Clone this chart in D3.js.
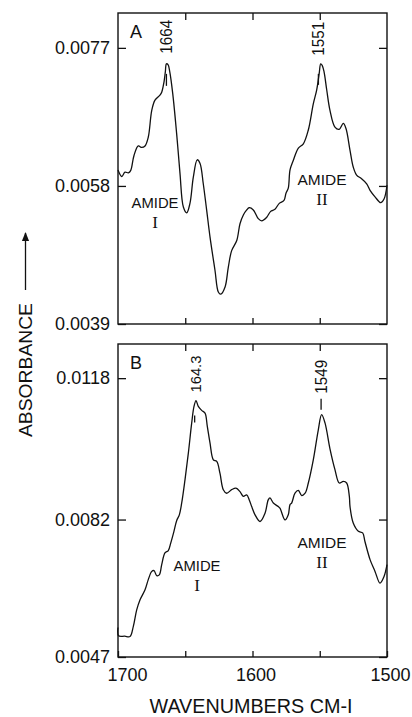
<!DOCTYPE html>
<html>
<head>
<meta charset="utf-8">
<script src="https://cdn.jsdelivr.net/npm/d3@7"></script>
<style>
  html, body { margin: 0; padding: 0; background: #fff; }
  svg text { font-family: "Liberation Sans", Arial, sans-serif; fill: #111; }
</style>
</head>
<body>
<svg id="chart" width="412" height="717"></svg>
<script>
// wavenumbers (cm-1) and absorbance
var wavenumbersA = [1700, 1697.2, 1694.8, 1692.3, 1690.6, 1688.1, 1684.9, 1682.4, 1679.9, 1677.5,
  1674.9, 1672.5, 1668.8, 1667.5, 1665.8, 1664.8, 1664, 1662.8, 1661.5, 1659.3, 1656.4, 1653.9,
  1651.4, 1648.9, 1646.5, 1644.0, 1641.1, 1639.0, 1636.6, 1634.1, 1631.6, 1627.9, 1625.4,
  1623.6, 1620.4, 1618.0, 1615.5, 1611.7, 1609.3, 1606.8, 1604.3, 1602.5, 1599.4, 1595.7,
  1593.2, 1589.4, 1586.5, 1583.3, 1580.1, 1576.6, 1575.1, 1573.4, 1572.1, 1569.7, 1565.9,
  1562.2, 1558.5, 1554.8, 1552.3, 1550.4, 1549.3, 1548.2, 1546.8, 1544.8, 1542.4, 1538.7,
  1535.5, 1532.5, 1530.5, 1527.5, 1525.1, 1522.6, 1518.9, 1515.1, 1512.6, 1508.9, 1504.7,
  1502.2, 1500];
var absorbanceA = [0.00602, 0.00593, 0.00599, 0.00598, 0.00601, 0.00622, 0.00635, 0.00633, 0.00635, 0.00647,
  0.00684, 0.00698, 0.00705, 0.00709, 0.00723, 0.00737, 0.00748, 0.00747, 0.00737, 0.00707, 0.00652, 0.00597,
  0.00551, 0.00543, 0.00556, 0.00592, 0.00616, 0.00611, 0.00583, 0.00547, 0.00510, 0.00464, 0.00434,
  0.00431, 0.00441, 0.00468, 0.00491, 0.00505, 0.00528, 0.00540, 0.00547, 0.00550, 0.00547, 0.00535,
  0.00532, 0.00537, 0.00545, 0.00548, 0.00556, 0.00560, 0.00570, 0.00577, 0.00602, 0.00615, 0.00632,
  0.00638, 0.00657, 0.00693, 0.00712, 0.00735, 0.00748, 0.00746, 0.00737, 0.00712, 0.00684, 0.00661,
  0.00658, 0.00666, 0.00659, 0.00629, 0.00606, 0.00595, 0.00590, 0.00583, 0.00574, 0.00565, 0.00557,
  0.00562, 0.00581];

var wavenumbersB = [1700, 1699.6, 1695, 1691.1, 1688.6, 1686.1, 1683.6, 1679.9, 1677.5, 1674.9,
  1673.2, 1671.2, 1669.3, 1667.5, 1665.1, 1662.6, 1660.8, 1658.4, 1656.4, 1654.4, 1652.6,
  1650.2, 1647.7, 1645.2, 1643.5, 1642.0, 1640.3, 1637.8, 1635.3, 1633.6, 1631.6, 1629.1,
  1626.6, 1624.2, 1621.7, 1619.2, 1615.5, 1612.3, 1609.3, 1606.8, 1604.3, 1602.4, 1600.6,
  1598.1, 1594.4, 1590.7, 1588.3, 1587.0, 1584.5, 1580.8, 1579.6, 1575.8, 1573.4, 1572.1,
  1570.9, 1568.4, 1565.9, 1563.4, 1560.9, 1558.5, 1554.8, 1551.1, 1548.6, 1546.1, 1542.4,
  1538.7, 1535.5, 1532.5, 1530.0, 1528.0, 1527.5, 1525.1, 1521.3, 1518.1, 1516.4, 1512.6,
  1508.9, 1505.2, 1502.2, 1500];
var absorbanceB = [0.00545, 0.00524, 0.00523, 0.00522, 0.00548, 0.00590, 0.00616, 0.00641, 0.00667, 0.00688,
  0.00690, 0.00677, 0.00679, 0.00705, 0.00735, 0.00741, 0.00760, 0.00790, 0.00817, 0.00832, 0.00863,
  0.00921, 0.00989, 0.01066, 0.01108, 0.01123, 0.01108, 0.01098, 0.01091, 0.01057, 0.01015, 0.00972,
  0.00968, 0.00938, 0.00896, 0.00887, 0.00896, 0.00900, 0.00891, 0.00879, 0.00883, 0.00870, 0.00853,
  0.00832, 0.00815, 0.00836, 0.00870, 0.00875, 0.00862, 0.00853, 0.00849, 0.00819, 0.00832, 0.00858,
  0.00862, 0.00887, 0.00894, 0.00881, 0.00887, 0.00913, 0.00972, 0.01048, 0.01087, 0.01066, 0.01000,
  0.00947, 0.00913, 0.00917, 0.00913, 0.00879, 0.00853, 0.00811, 0.00790, 0.00786, 0.00764, 0.00718,
  0.00688, 0.00658, 0.00675, 0.00705];

var xTicks = [1700, 1650, 1600, 1550, 1500];
var xTickLabels = ["1700", "", "1600", "", "1500"];
var yTicksA = [0.0039, 0.0058, 0.0077];
var yTicksB = [0.0047, 0.0082, 0.0118];

var peaksA = [1664, 1551];
var peakLabelsA = ["1664", "1551"];
var peaksB = [1643, 1549];
var peakLabelsB = ["164.3", "1549"];

var svg = d3.select("#chart");
var ink = "#111";

var margin = {left: 118, right: 25};
var width = 412 - margin.left - margin.right;

var x = d3.scaleLinear().domain([1700, 1500]).range([margin.left, margin.left + width]);

var panels = [
  {id: "A", top: 13, bottom: 324, yDomain: [0.0039, 0.00818], ticks: yTicksA,
   wn: wavenumbersA, ab: absorbanceA, peaks: peaksA, peakLabels: peakLabelsA,
   showX: false, letterY: 38,
   amideI: {x: 155, y: 208}, amideII: {x: 322, y: 185},
   markers: [[10, 22], [10, 21]], labelGap: [-10, -8], labelSize: [17, 17]},
  {id: "B", top: 344, bottom: 657, yDomain: [0.0047, 0.01267], ticks: yTicksB,
   wn: wavenumbersB, ab: absorbanceB, peaks: peaksB, peakLabels: peakLabelsB,
   showX: true, letterY: 369,
   amideI: {x: 197, y: 571}, amideII: {x: 322, y: 548},
   markers: [[15, 22], [-16, -5]], labelGap: [-8, -21], labelSize: [15, 16]}
];

panels.forEach(function(p) {
  var y = d3.scaleLinear().domain(p.yDomain).range([p.bottom, p.top]);
  var g = svg.append("g").attr("class", "panel-" + p.id);

  // frame
  g.append("rect")
    .attr("x", x(1700)).attr("y", p.top)
    .attr("width", x(1500) - x(1700)).attr("height", p.bottom - p.top)
    .attr("fill", "none").attr("stroke", ink).attr("stroke-width", 1.4);

  // inward ticks on all four sides
  var left = g.append("g")
    .attr("transform", "translate(" + x(1700) + ",0)")
    .call(d3.axisLeft(y).tickValues(p.ticks).tickSize(-8).tickPadding(8)
      .tickFormat(d3.format(".4f")));
  var right = g.append("g")
    .attr("transform", "translate(" + x(1500) + ",0)")
    .call(d3.axisRight(y).tickValues(p.ticks).tickSize(-8).tickFormat(""));
  var top = g.append("g")
    .attr("transform", "translate(0," + p.top + ")")
    .call(d3.axisTop(x).tickValues([1650, 1600, 1550]).tickSize(-7).tickFormat(""));
  var bottom = g.append("g")
    .attr("transform", "translate(0," + p.bottom + ")")
    .call(d3.axisBottom(x).tickValues(p.showX ? xTicks : [1650, 1600, 1550]).tickSize(-6).tickPadding(11)
      .tickFormat(function(d) { return p.showX ? xTickLabels[xTicks.indexOf(d)] : ""; }));

  [left, right, top, bottom].forEach(function(a) {
    a.select(".domain").remove();
    a.selectAll("line").attr("stroke", ink).attr("stroke-width", 1.3);
    a.selectAll("text").attr("font-size", 18).attr("fill", ink)
      .attr("font-family", "Liberation Sans, Arial, sans-serif");
  });
  bottom.selectAll("text").attr("dx", function(d) { return d === 1700 ? 9 : 3; });

  // panel letter
  g.append("text").attr("x", x(1700) + 12).attr("y", p.letterY)
    .attr("font-size", 18).text(p.id);

  // spectrum
  var pts = p.wn.map(function(w, i) { return [w, p.ab[i]]; });
  var line = d3.line()
    .x(function(d) { return x(d[0]); })
    .y(function(d) { return y(d[1]); })
    .curve(d3.curveCatmullRom.alpha(0.5));
  g.append("path").datum(pts)
    .attr("d", line)
    .attr("fill", "none").attr("stroke", ink).attr("stroke-width", 1.3)
    .attr("stroke-linejoin", "round");

  // peak labels + small marker lines
  p.peaks.forEach(function(w, i) {
    var peakVal = d3.max(pts.filter(function(d) { return Math.abs(d[0] - w) < 4; }), function(d) { return d[1]; });
    var py = y(peakVal);
    var m = p.markers[i];
    g.append("line")
      .attr("x1", x(w)).attr("x2", x(w))
      .attr("y1", py + m[0]).attr("y2", py + m[1])
      .attr("stroke", ink).attr("stroke-width", 1.3);
    var ty = py + p.labelGap[i];
    g.append("text")
      .attr("transform", "translate(" + (x(w) + 6) + "," + ty + ") rotate(-90)")
      .attr("font-size", p.labelSize[i])
      .attr("textLength", p.id === "B" && i === 0 ? 37 : 34)
      .attr("lengthAdjust", "spacingAndGlyphs")
      .text(p.peakLabels[i]);
  });

  // amide annotations
  g.append("text").attr("x", p.amideI.x).attr("y", p.amideI.y)
    .attr("text-anchor", "middle").attr("font-size", 15)
    .attr("textLength", 47).attr("lengthAdjust", "spacingAndGlyphs").text("AMIDE");
  g.append("text").attr("x", p.amideI.x).attr("y", p.amideI.y + 20)
    .attr("text-anchor", "middle").attr("font-size", 17)
    .style("font-family", "Liberation Serif, serif").text("I");
  g.append("text").attr("x", p.amideII.x).attr("y", p.amideII.y)
    .attr("text-anchor", "middle").attr("font-size", 15)
    .attr("textLength", 49).attr("lengthAdjust", "spacingAndGlyphs").text("AMIDE");
  g.append("text").attr("x", p.amideII.x).attr("y", p.amideII.y + 20)
    .attr("text-anchor", "middle").attr("font-size", 17)
    .style("font-family", "Liberation Serif, serif").text("II");
});

// shared axis titles
svg.append("text")
  .attr("x", 251).attr("y", 713)
  .attr("text-anchor", "middle").attr("font-size", 20)
  .attr("textLength", 203).attr("lengthAdjust", "spacingAndGlyphs")
  .text("WAVENUMBERS CM-I");

svg.append("text")
  .attr("transform", "translate(32,370) rotate(-90)")
  .attr("text-anchor", "middle").attr("font-size", 18)
  .attr("textLength", 134).attr("lengthAdjust", "spacingAndGlyphs")
  .text("ABSORBANCE");

svg.append("defs").append("marker")
  .attr("id", "arrow").attr("viewBox", "0 0 10 10")
  .attr("refX", 9).attr("refY", 5)
  .attr("markerWidth", 7).attr("markerHeight", 7)
  .attr("orient", "auto")
  .append("path").attr("d", "M0,1 L10,5 L0,9 Z").attr("fill", ink);

svg.append("line")
  .attr("x1", 25.5).attr("x2", 25.5).attr("y1", 290).attr("y2", 233)
  .attr("stroke", ink).attr("stroke-width", 1.3)
  .attr("marker-end", "url(#arrow)");
</script>
</body>
</html>
